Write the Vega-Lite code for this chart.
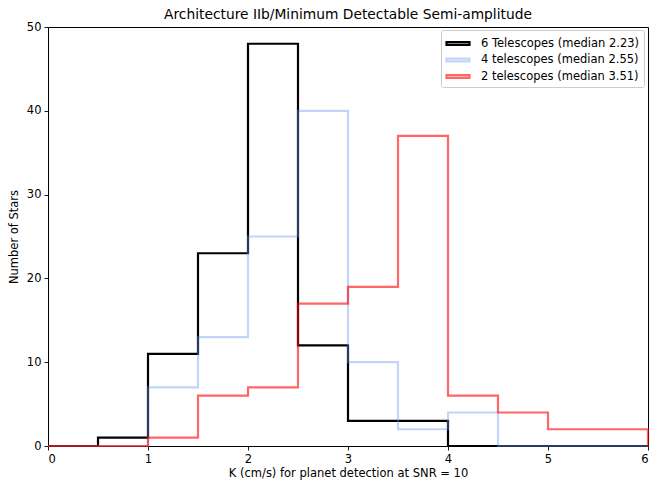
{
  "$schema": "https://vega.github.io/schema/vega-lite/v6.json",
  "width": 600,
  "height": 419,
  "autosize": {"type": "none"},
  "padding": {"left": 48, "top": 27, "right": 3, "bottom": 43},
  "background": "white",
  "title": {
    "text": "Architecture IIb/Minimum Detectable Semi-amplitude",
    "font": "DejaVu Sans",
    "fontSize": 13.8,
    "fontWeight": "normal",
    "color": "black",
    "anchor": "middle",
    "offset": -1
  },
  "config": {
    "view": {"stroke": "black", "strokeWidth": 1},
    "axis": {
      "grid": false,
      "domain": false,
      "tickColor": "black",
      "tickSize": 4,
      "tickWidth": 0.9,
      "labelFont": "DejaVu Sans",
      "labelFontSize": 11.5,
      "labelColor": "black",
      "labelPadding": 3,
      "titleFont": "DejaVu Sans",
      "titleFontSize": 11.5,
      "titleFontWeight": "normal",
      "titleColor": "black"
    },
    "legend": {
      "labelFont": "DejaVu Sans",
      "labelFontSize": 11.5,
      "labelColor": "black",
      "labelLimit": 400
    }
  },
  "data": {
    "values": [
      {"series": "6 Telescopes (median 2.23)", "k": 0, "n": 0, "ord": 0},
      {"series": "6 Telescopes (median 2.23)", "k": 0.5, "n": 1, "ord": 1},
      {"series": "6 Telescopes (median 2.23)", "k": 1, "n": 11, "ord": 2},
      {"series": "6 Telescopes (median 2.23)", "k": 1.5, "n": 23, "ord": 3},
      {"series": "6 Telescopes (median 2.23)", "k": 2, "n": 48, "ord": 4},
      {"series": "6 Telescopes (median 2.23)", "k": 2.5, "n": 12, "ord": 5},
      {"series": "6 Telescopes (median 2.23)", "k": 3, "n": 3, "ord": 6},
      {"series": "6 Telescopes (median 2.23)", "k": 3.5, "n": 3, "ord": 7},
      {"series": "6 Telescopes (median 2.23)", "k": 4, "n": 0, "ord": 8},
      {"series": "6 Telescopes (median 2.23)", "k": 6, "n": 0, "ord": 9},
      {"series": "4 telescopes (median 2.55)", "k": 0, "n": 0, "ord": 0},
      {"series": "4 telescopes (median 2.55)", "k": 1, "n": 7, "ord": 1},
      {"series": "4 telescopes (median 2.55)", "k": 1.5, "n": 13, "ord": 2},
      {"series": "4 telescopes (median 2.55)", "k": 2, "n": 25, "ord": 3},
      {"series": "4 telescopes (median 2.55)", "k": 2.5, "n": 40, "ord": 4},
      {"series": "4 telescopes (median 2.55)", "k": 3, "n": 10, "ord": 5},
      {"series": "4 telescopes (median 2.55)", "k": 3.5, "n": 2, "ord": 6},
      {"series": "4 telescopes (median 2.55)", "k": 4, "n": 4, "ord": 7},
      {"series": "4 telescopes (median 2.55)", "k": 4.5, "n": 0, "ord": 8},
      {"series": "4 telescopes (median 2.55)", "k": 6, "n": 0, "ord": 9},
      {"series": "2 telescopes (median 3.51)", "k": 0, "n": 0, "ord": 0},
      {"series": "2 telescopes (median 3.51)", "k": 1, "n": 1, "ord": 1},
      {"series": "2 telescopes (median 3.51)", "k": 1.5, "n": 6, "ord": 2},
      {"series": "2 telescopes (median 3.51)", "k": 2, "n": 7, "ord": 3},
      {"series": "2 telescopes (median 3.51)", "k": 2.5, "n": 17, "ord": 4},
      {"series": "2 telescopes (median 3.51)", "k": 3, "n": 19, "ord": 5},
      {"series": "2 telescopes (median 3.51)", "k": 3.5, "n": 37, "ord": 6},
      {"series": "2 telescopes (median 3.51)", "k": 4, "n": 6, "ord": 7},
      {"series": "2 telescopes (median 3.51)", "k": 4.5, "n": 4, "ord": 8},
      {"series": "2 telescopes (median 3.51)", "k": 5, "n": 2, "ord": 9},
      {"series": "2 telescopes (median 3.51)", "k": 6, "n": 2, "ord": 10},
      {"series": "2 telescopes (median 3.51)", "k": 6, "n": 0, "ord": 11}
    ]
  },
  "mark": {"type": "line", "interpolate": "step-after", "strokeWidth": 2.2, "clip": false},
  "encoding": {
    "x": {
      "field": "k",
      "type": "quantitative",
      "scale": {"domain": [0, 6], "nice": false, "zero": false},
      "axis": {"values": [0, 1, 2, 3, 4, 5, 6], "format": "d", "title": "K (cm/s) for planet detection at SNR = 10", "titlePadding": 3}
    },
    "y": {
      "field": "n",
      "type": "quantitative",
      "scale": {"domain": [0, 50], "nice": false},
      "axis": {"values": [0, 10, 20, 30, 40, 50], "title": "Number of Stars", "titlePadding": 7}
    },
    "order": {"field": "ord", "type": "quantitative"},
    "color": {
      "field": "series",
      "type": "nominal",
      "scale": {
        "domain": ["6 Telescopes (median 2.23)", "4 telescopes (median 2.55)", "2 telescopes (median 3.51)"],
        "range": ["#000000", "rgba(100,149,237,0.4)", "rgba(255,0,0,0.6)"]
      },
      "legend": {
        "title": null,
        "orient": "none",
        "legendX": 393,
        "legendY": 3,
        "symbolType": "M-1,-0.18H1.875V0.18H-1Z",
        "symbolSize": 256,
        "symbolStrokeWidth": 2.2,
        "symbolFillColor": "transparent",
        "symbolOpacity": 1,
        "labelOffset": 17,
        "rowPadding": 0.5,
        "padding": 4,
        "fillColor": "rgba(255,255,255,0.8)",
        "strokeColor": "#cccccc",
        "cornerRadius": 2
      }
    }
  }
}
